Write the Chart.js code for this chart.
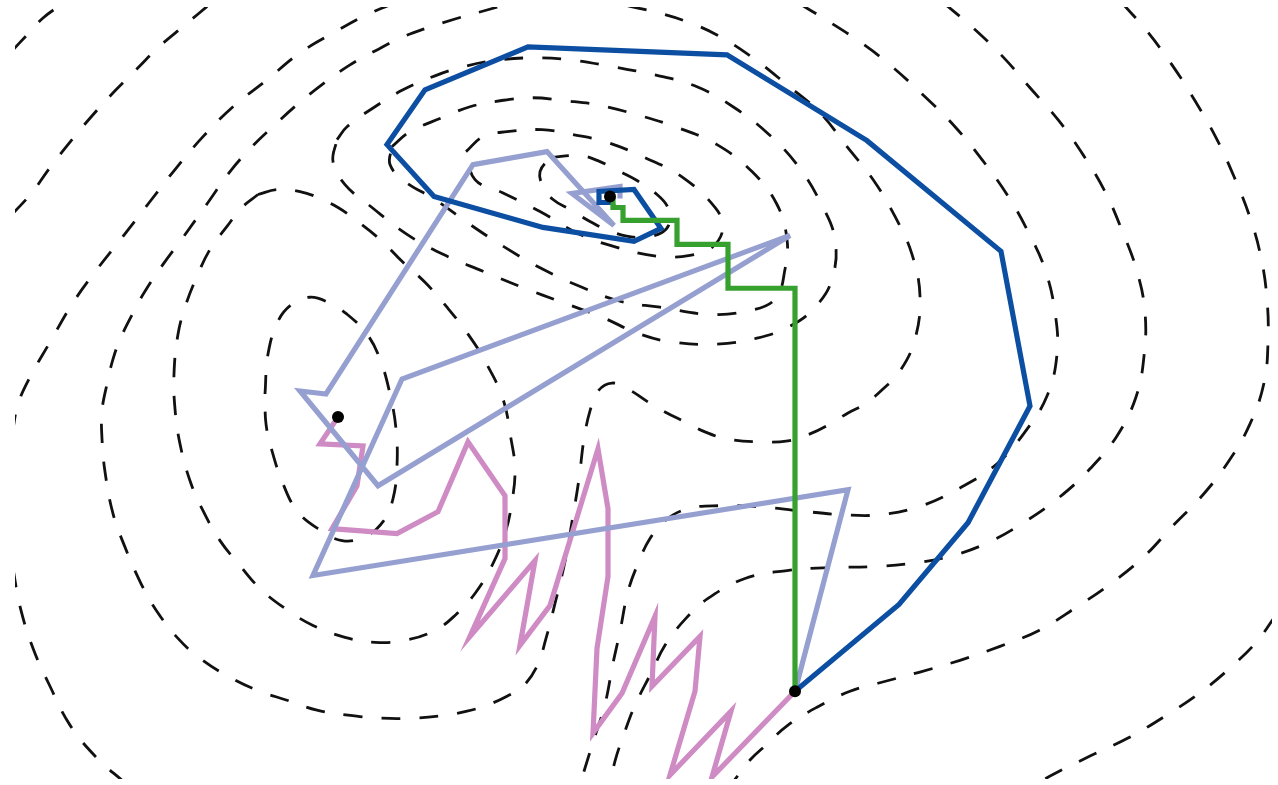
<!DOCTYPE html>
<html>
<head>
<meta charset="utf-8">
<script src="https://cdn.jsdelivr.net/npm/chart.js@4/dist/chart.umd.min.js"></script>
<style>
  html, body { margin: 0; padding: 0; background: #ffffff; }
  #wrap { width: 1278px; height: 785px; position: relative; }
</style>
</head>
<body>
<div id="wrap"><canvas id="chart"></canvas></div>
<script>
// ---- Level curves of the loss surface (x, y pairs) ----
// rings around the global minimum
const ringG2 = [[5.35,6.23],[5.65,6.25],[5.85,6.19],[6.05,6.09],[6.22,6.00],[6.42,5.86],[6.53,5.73],[6.55,5.59],[6.47,5.48],[6.25,5.43],[5.98,5.48],[5.75,5.59],[5.55,5.71],[5.38,5.81],[5.28,5.94],[5.25,6.09],[5.35,6.23]];
const ringG3 = [[4.51,6.29],[4.68,6.44],[4.92,6.49],[5.27,6.51],[5.58,6.46],[5.90,6.39],[6.30,6.23],[6.68,6.03],[7.00,5.73],[7.08,5.53],[6.97,5.33],[6.75,5.25],[6.43,5.24],[6.02,5.33],[5.65,5.46],[5.25,5.69],[4.87,5.88],[4.60,6.01],[4.51,6.29]];
const ringG4 = [[3.77,6.34],[3.95,6.49],[4.27,6.63],[4.55,6.74],[4.85,6.80],[5.17,6.83],[5.50,6.80],[5.82,6.76],[6.22,6.66],[6.63,6.53],[7.02,6.36],[7.37,6.09],[7.62,5.76],[7.72,5.41],[7.70,5.11],[7.60,4.81],[7.32,4.69],[6.92,4.66],[6.45,4.73],[6.05,4.79],[5.67,4.93],[5.28,5.11],[4.90,5.33],[4.55,5.56],[4.20,5.81],[3.90,5.99],[3.75,6.16],[3.77,6.34]];
const ringG5 = [[3.22,6.41],[3.32,6.54],[3.60,6.74],[3.88,6.91],[4.20,7.05],[4.48,7.14],[4.78,7.20],[5.15,7.23],[5.55,7.21],[5.98,7.14],[6.40,7.06],[6.82,6.94],[7.18,6.74],[7.52,6.48],[7.82,6.16],[8.05,5.79],[8.20,5.41],[8.17,5.01],[8.00,4.73],[7.75,4.54],[7.42,4.42],[7.01,4.36],[6.58,4.38],[6.25,4.46],[5.87,4.63],[5.47,4.78],[5.07,4.93],[4.68,5.09],[4.28,5.26],[3.92,5.46],[3.57,5.73],[3.30,5.96],[3.18,6.19],[3.22,6.41]];
// rings around the local minimum
const ringL1 = [[2.50,3.86],[2.53,4.26],[2.63,4.59],[2.77,4.76],[2.95,4.83],[3.13,4.78],[3.32,4.66],[3.52,4.46],[3.65,4.21],[3.75,3.86],[3.81,3.51],[3.82,3.14],[3.78,2.81],[3.68,2.58],[3.50,2.43],[3.27,2.39],[3.03,2.51],[2.82,2.69],[2.68,2.96],[2.57,3.29],[2.51,3.56],[2.50,3.86]];
const ringL2 = [[2.43,5.86],[2.62,5.91],[2.85,5.89],[3.03,5.83],[3.23,5.73],[3.40,5.61],[3.65,5.41],[3.88,5.18],[4.10,4.98],[4.32,4.73],[4.53,4.46],[4.70,4.19],[4.88,3.81],[4.96,3.41],[5.00,3.11],[4.97,2.78],[4.90,2.46],[4.77,2.14],[4.60,1.86],[4.40,1.64],[4.20,1.49],[3.90,1.39],[3.60,1.37],[3.30,1.42],[2.98,1.54],[2.70,1.71],[2.45,1.91],[2.25,2.14],[2.05,2.39],[1.88,2.69],[1.75,2.99],[1.65,3.36],[1.60,3.71],[1.59,4.06],[1.63,4.46],[1.71,4.76],[1.82,5.04],[1.95,5.31],[2.12,5.54],[2.27,5.73],[2.43,5.86]];
// curve through the saddle, wrapping both basins
const saddleCurve = [[6.13,7.75],[6.40,7.69],[6.70,7.60],[7.02,7.46],[7.38,7.23],[7.72,6.96],[8.05,6.68],[8.32,6.34],[8.58,6.01],[8.80,5.64],[8.97,5.26],[9.05,4.84],[9.00,4.41],[8.85,4.09],[8.68,3.91],[8.50,3.76],[8.33,3.67],[8.15,3.56],[7.95,3.46],[7.73,3.39],[7.43,3.38],[7.12,3.41],[6.90,3.48],[6.70,3.58],[6.50,3.68],[6.33,3.78],[6.13,3.91],[5.97,3.97],[5.83,3.89],[5.75,3.69],[5.69,3.41],[5.64,3.01],[5.57,2.58],[5.50,2.18],[5.40,1.76],[5.31,1.41],[5.22,1.13],[5.08,0.93],[4.92,0.83],[4.72,0.74],[4.52,0.68],[4.30,0.64],[3.98,0.61],[3.65,0.61],[3.33,0.64],[3.02,0.69],[2.72,0.79],[2.42,0.89],[2.13,1.03],[1.85,1.21],[1.63,1.41],[1.42,1.68],[1.26,1.96],[1.09,2.35],[0.98,2.66],[0.90,3.08],[0.87,3.41],[0.87,3.69],[0.92,3.96],[0.98,4.21],[1.06,4.43],[1.20,4.71],[1.30,4.89],[1.48,5.16],[1.68,5.43],[1.93,5.78],[2.15,6.09],[2.37,6.34],[2.60,6.56],[2.82,6.76],[3.08,6.97],[3.35,7.16],[3.62,7.31],[3.88,7.44],[4.12,7.53],[4.40,7.62],[4.72,7.71],[4.90,7.76]];
// outer levels (pieces cut by the frame)
const outerA1 = [[7.85,7.77],[8.08,7.63],[8.45,7.39],[8.75,7.16],[9.10,6.84],[9.40,6.54],[9.67,6.21],[9.92,5.86],[10.13,5.49],[10.30,5.11],[10.40,4.68],[10.42,4.26],[10.32,3.84],[10.10,3.48],[9.82,3.16],[9.47,2.93],[9.07,2.74],[8.65,2.65],[8.27,2.65],[7.83,2.69],[7.43,2.73],[7.05,2.74],[6.73,2.71],[6.50,2.59],[6.35,2.41],[6.23,2.16],[6.13,1.88],[6.05,1.48],[5.98,1.16],[5.90,0.75],[5.80,0.43],[5.70,0.11],[5.66,-0.03]];
const outerA2 = [[3.77,7.77],[3.49,7.65],[3.20,7.49],[2.85,7.28],[2.52,7.01],[2.18,6.74],[1.88,6.44],[1.60,6.11],[1.35,5.79],[1.08,5.44],[0.82,5.11],[0.57,4.76],[0.35,4.38],[0.15,4.03],[0.03,3.76],[-0.02,3.51]];
const outerA3 = [[-0.02,2.11],[0.05,1.73],[0.18,1.31],[0.35,0.93],[0.55,0.54],[0.82,0.21],[1.09,-0.03]];
const outerB1 = [[9.30,7.77],[9.57,7.54],[9.88,7.24],[10.15,6.93],[10.43,6.61],[10.68,6.26],[10.90,5.89],[11.07,5.50],[11.22,5.09],[11.30,4.68],[11.29,4.24],[11.21,3.83],[11.02,3.44],[10.75,3.11],[10.45,2.83],[10.10,2.58],[9.73,2.37],[9.34,2.23],[8.95,2.16],[8.58,2.13],[8.15,2.12],[7.72,2.09],[7.30,2.01],[6.93,1.81],[6.70,1.60],[6.50,1.34],[6.36,1.06],[6.20,0.74],[6.10,0.48],[6.00,0.18],[5.96,-0.03]];
const outerB2 = [[-0.02,5.67],[0.17,5.88],[0.35,6.13],[0.57,6.41],[0.78,6.66],[1.00,6.90],[1.22,7.12],[1.45,7.35],[1.70,7.56],[1.95,7.77]];
const outerC1 = [[11.08,7.77],[11.31,7.51],[11.57,7.16],[11.80,6.80],[12.01,6.43],[12.19,6.04],[12.35,5.63],[12.46,5.23],[12.52,4.81],[12.53,4.38],[12.49,3.97],[12.35,3.56],[12.14,3.19],[11.88,2.85],[11.57,2.53],[11.29,2.23],[10.96,1.96],[10.61,1.72],[10.24,1.49],[9.85,1.33],[9.45,1.19],[9.04,1.07],[8.63,0.96],[8.35,0.88],[8.02,0.72],[7.73,0.54],[7.51,0.34],[7.35,0.19],[7.18,-0.03]];
const outerC2 = [[-0.02,7.31],[0.12,7.46],[0.28,7.63],[0.47,7.77]];
const outerD = [[12.60,1.63],[12.42,1.38],[12.18,1.14],[11.87,0.88],[11.50,0.63],[11.13,0.41],[10.75,0.23],[10.37,0.04],[10.25,-0.03]];

// ---- Optimizer trajectories, all starting from the same point ----
const pathMomentum = [[7.80,0.88],[8.84,1.75],[9.53,2.57],[10.15,3.74],[9.86,5.29],[8.52,6.40],[7.12,7.26],[5.13,7.34],[4.10,6.91],[3.72,6.36],[4.19,5.84],[5.28,5.53],[6.19,5.39],[6.46,5.52],[6.19,5.91],[5.84,5.89],[5.84,5.78],[5.97,5.78],[5.95,5.84]];
const pathAdaptive = [[7.80,0.88],[8.33,2.90],[2.98,2.04],[3.87,4.01],[7.75,5.45],[3.63,2.94],[2.85,3.89],[3.11,3.86],[4.58,6.16],[5.32,6.29],[5.99,5.55],[5.57,5.87],[6.05,5.94],[6.05,5.82]];
const pathNoisy = [[7.80,0.88],[6.97,0.02],[7.16,0.68],[6.55,0.04],[6.80,0.88],[6.85,1.43],[6.37,0.93],[6.40,1.63],[6.07,0.86],[5.78,0.46],[5.82,1.31],[5.93,2.03],[5.93,2.71],[5.83,3.31],[5.35,1.74],[5.05,1.34],[5.20,2.19],[4.55,1.43],[4.90,2.21],[4.90,2.84],[4.53,3.38],[4.23,2.68],[3.82,2.46],[3.17,2.51],[3.42,2.94],[3.48,3.34],[3.05,3.36],[3.23,3.63]];
const pathCoordinate = [[7.80,0.88],[7.80,4.92],[7.13,4.92],[7.13,5.36],[6.62,5.36],[6.62,5.60],[6.08,5.60],[6.08,5.73],[5.98,5.73],[5.98,5.82],[5.95,5.84]];

// start point, global minimum, local minimum
const markers = [[7.80,0.88],[5.95,5.84],[3.23,3.63]];

const toPts = arr => arr.map(([x, y]) => ({ x, y }));

const levelSets = [ringG2, ringG3, ringG4, ringG5, ringL1, ringL2, saddleCurve,
  outerA1, outerA2, outerA3, outerB1, outerB2, outerC1, outerC2, outerD];

const contourDatasets = levelSets.map(set => ({
  data: toPts(set),
  showLine: true,
  borderColor: '#111111',
  borderWidth: 2.8,
  borderDash: [19, 19],
  borderCapStyle: 'butt',
  tension: 0.4,
  pointRadius: 0,
  fill: false,
  order: 10
}));

function pathDataset(arr, color, order) {
  return {
    data: toPts(arr),
    showLine: true,
    borderColor: color,
    borderWidth: 5.2,
    borderJoinStyle: 'miter',
    tension: 0,
    pointRadius: 0,
    fill: false,
    order
  };
}

new Chart(document.getElementById('chart'), {
  type: 'scatter',
  data: {
    datasets: [
      ...contourDatasets,
      pathDataset(pathNoisy, '#cf8bc4', 6),
      pathDataset(pathAdaptive, '#96a0d0', 5),
      pathDataset(pathMomentum, '#0c4fa2', 4),
      pathDataset(pathCoordinate, '#36a12e', 3),
      {
        data: toPts(markers),
        showLine: false,
        pointRadius: 6,
        pointHoverRadius: 6,
        pointBackgroundColor: '#000000',
        pointBorderWidth: 0,
        order: 0
      }
    ]
  },
  options: {
    responsive: true,
    maintainAspectRatio: false,
    animation: false,
    events: [],
    layout: { padding: { left: 15, right: 6, top: 7, bottom: 4 } },
    elements: { line: { capBezierPoints: false } },
    plugins: { legend: { display: false }, tooltip: { enabled: false } },
    scales: {
      x: { type: 'linear', min: 0, max: 12.57, display: false },
      y: { type: 'linear', min: 0, max: 7.74, display: false }
    }
  }
});
</script>
</body>
</html>
